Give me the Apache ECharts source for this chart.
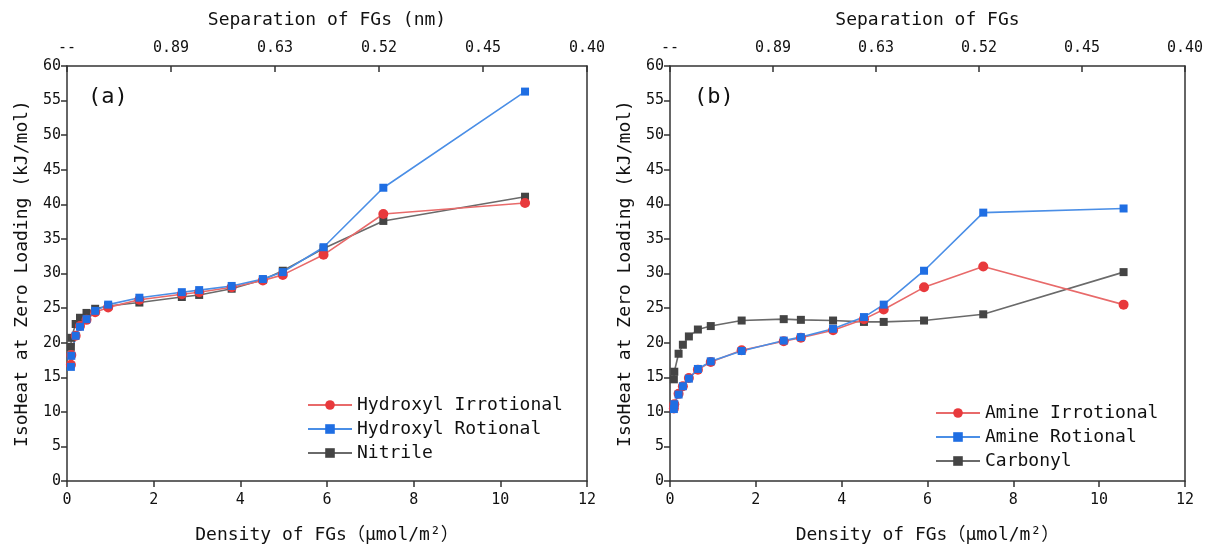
<!DOCTYPE html>
<html><head><meta charset="utf-8">
<script src="https://cdn.jsdelivr.net/npm/echarts@6/dist/echarts.min.js"></script>
<style>html,body{margin:0;padding:0;background:#fff}#c{width:1206px;height:549px}</style>
</head><body><div id="c"></div>
<script>
// ---- data ----
const xTicksTop = ['--', '0.89', '0.63', '0.52', '0.45', '0.40'];
const densityA = [0.09, 0.1, 0.2, 0.3, 0.45, 0.65, 0.95, 1.67, 2.65, 3.05, 3.8, 4.52, 4.98, 5.92, 7.3, 10.57];
const hydroxylIrrot = [16.8, 18.2, 21.0, 22.4, 23.3, 24.4, 25.1, 26.2, 27.0, 27.3, 28.0, 29.0, 29.8, 32.7, 38.6, 40.2];
const hydroxylRot   = [16.5, 18.1, 21.0, 22.3, 23.4, 24.6, 25.5, 26.5, 27.3, 27.6, 28.2, 29.2, 30.2, 33.8, 42.4, 56.3];
const nitrile       = [19.4, 20.7, 22.7, 23.6, 24.3, 24.9, 25.3, 25.8, 26.6, 26.9, 27.8, 29.1, 30.4, 33.6, 37.6, 41.1];
const densityB = [0.09, 0.1, 0.2, 0.3, 0.44, 0.65, 0.95, 1.67, 2.65, 3.05, 3.8, 4.52, 4.98, 5.92, 7.3, 10.57];
const amineIrrot = [10.5, 11.1, 12.6, 13.7, 14.9, 16.1, 17.2, 18.9, 20.2, 20.7, 21.8, 23.4, 24.8, 28.0, 31.0, 25.5];
const amineRot   = [10.4, 11.1, 12.5, 13.7, 14.8, 16.2, 17.3, 18.8, 20.3, 20.8, 22.0, 23.7, 25.5, 30.4, 38.8, 39.4];
const carbonyl   = [14.7, 15.8, 18.4, 19.7, 20.9, 21.9, 22.4, 23.2, 23.4, 23.3, 23.2, 23.0, 23.0, 23.2, 24.1, 30.2];

const FONT = '"DejaVu Sans Mono", "Noto Sans CJK SC", monospace';
const RED = '#e8393c', RED_L = '#e86a6a';
const BLUE = '#1f6ee3', BLUE_L = '#4a8ee6';
const GRAY = '#444444', GRAY_L = '#6a6a6a';
const AX = '#333';

function pairs(xs, ys) { return xs.map((x, i) => [x, ys[i]]); }

function mkSeries(name, xs, ys, sym, size, col, lcol, gi) {
  return { name, type: 'line', xAxisIndex: gi * 2, yAxisIndex: gi * 2, data: pairs(xs, ys),
    symbol: sym, symbolSize: size, showSymbol: true,
    itemStyle: { color: col }, lineStyle: { color: lcol, width: 1.6 }, z: 3 };
}

const baseText = { fontFamily: FONT, color: '#111' };

function xAxes(gi, topName) {
  return [
    { gridIndex: gi, type: 'value', position: 'bottom', min: 0, max: 12, interval: 2,
      name: 'Density of FGs\uFF08\u03BCmol/m\u00B2\uFF09', nameLocation: 'middle', nameGap: 45,
      nameTextStyle: Object.assign({ fontSize: 18 }, baseText),
      axisLine: { onZero: false, lineStyle: { color: AX, width: 1.5 } },
      axisTick: { inside: false, length: 6, lineStyle: { color: AX, width: 1.5 } },
      axisLabel: Object.assign({ fontSize: 15, margin: 12 }, baseText),
      splitLine: { show: false } },
    { gridIndex: gi, type: 'value', position: 'top', min: 0, max: 5, interval: 1,
      name: topName, nameLocation: 'middle', nameGap: 37,
      nameTextStyle: Object.assign({ fontSize: 18 }, baseText),
      axisLine: { onZero: false, lineStyle: { color: AX, width: 1.5 } },
      axisTick: { inside: true, length: 6, lineStyle: { color: AX, width: 1.5 } },
      axisLabel: Object.assign({ fontSize: 15, margin: 10,
        formatter: v => xTicksTop[Math.round(v)] }, baseText),
      splitLine: { show: false } }
  ];
}
function yAxes(gi) {
  return [
    { gridIndex: gi, type: 'value', position: 'left', min: 0, max: 60, interval: 5,
      name: 'IsoHeat at Zero Loading (kJ/mol)', nameLocation: 'middle', nameGap: 36,
      nameTextStyle: Object.assign({ fontSize: 18 }, baseText),
      axisLine: { show: true, onZero: false, lineStyle: { color: AX, width: 1.5 } },
      axisTick: { show: true, inside: false, length: 6, lineStyle: { color: AX, width: 1.5 } },
      axisLabel: Object.assign({ fontSize: 15, margin: 6 }, baseText),
      splitLine: { show: false } },
    { gridIndex: gi, type: 'value', position: 'right', min: 0, max: 60, interval: 5,
      axisLine: { show: true, onZero: false, lineStyle: { color: AX, width: 1.5 } },
      axisTick: { show: false }, axisLabel: { show: false }, splitLine: { show: false } }
  ];
}

const chart = echarts.init(document.getElementById('c'), null, { renderer: 'canvas' });
chart.setOption({
  backgroundColor: '#fff',
  animation: false,
  grid: [
    { left: 67, right: 619, top: 66, bottom: 66 },
    { left: 670, right: 19, top: 66, bottom: 66 }
  ],
  xAxis: [...xAxes(0, 'Separation of FGs (nm)'), ...xAxes(1, 'Separation of FGs')],
  yAxis: [...yAxes(0), ...yAxes(1)],
  graphic: [
    { type: 'text', left: 88, top: 86, style: { text: '(a)', font: '22px ' + FONT, fill: '#111' } },
    { type: 'text', left: 694, top: 86, style: { text: '(b)', font: '22px ' + FONT, fill: '#111' } }
  ],
  legend: [
    { orient: 'vertical', left: 302, top: 391, itemWidth: 44, itemHeight: 12, itemGap: 6,
      textStyle: Object.assign({ fontSize: 18 }, baseText),
      data: ['Hydroxyl Irrotional', 'Hydroxyl Rotional', 'Nitrile'] },
    { orient: 'vertical', left: 930, top: 399, itemWidth: 44, itemHeight: 12, itemGap: 6,
      textStyle: Object.assign({ fontSize: 18 }, baseText),
      data: ['Amine Irrotional', 'Amine Rotional', 'Carbonyl'] }
  ],
  series: [
    mkSeries('Nitrile', densityA, nitrile, 'rect', 8, GRAY, GRAY_L, 0),
    mkSeries('Hydroxyl Irrotional', densityA, hydroxylIrrot, 'circle', 10, RED, RED_L, 0),
    mkSeries('Hydroxyl Rotional', densityA, hydroxylRot, 'rect', 8, BLUE, BLUE_L, 0),
    mkSeries('Carbonyl', densityB, carbonyl, 'rect', 8, GRAY, GRAY_L, 1),
    mkSeries('Amine Irrotional', densityB, amineIrrot, 'circle', 10, RED, RED_L, 1),
    mkSeries('Amine Rotional', densityB, amineRot, 'rect', 8, BLUE, BLUE_L, 1)
  ]
});
</script></body></html>
